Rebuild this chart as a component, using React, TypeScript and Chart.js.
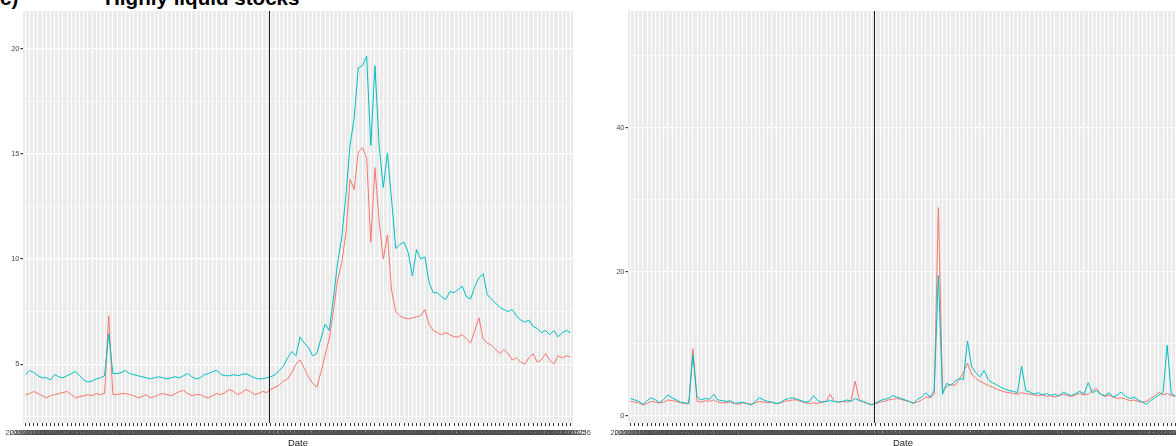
import React, { useEffect, useRef } from "react";
import { Chart, registerables } from "chart.js";

Chart.register(...registerables);
Chart.defaults.font.family = "'Liberation Sans', Arial, sans-serif";

// Trading days shown on both panels
const DATES = [
  "2019-11-25", "2019-11-26", "2019-11-27", "2019-11-28", "2019-11-29",
  "2019-12-02", "2019-12-03", "2019-12-04", "2019-12-05", "2019-12-06",
  "2019-12-09", "2019-12-10", "2019-12-11", "2019-12-12", "2019-12-13",
  "2019-12-16", "2019-12-17", "2019-12-18", "2019-12-19", "2019-12-20",
  "2019-12-23", "2019-12-24", "2019-12-25", "2019-12-26", "2019-12-27",
  "2019-12-30", "2019-12-31", "2020-01-01", "2020-01-02", "2020-01-03",
  "2020-01-06", "2020-01-07", "2020-01-08", "2020-01-09", "2020-01-10",
  "2020-01-13", "2020-01-14", "2020-01-15", "2020-01-16", "2020-01-17",
  "2020-01-20", "2020-01-21", "2020-01-22", "2020-01-23", "2020-01-24",
  "2020-01-27", "2020-01-28", "2020-01-29", "2020-01-30", "2020-01-31",
  "2020-02-03", "2020-02-04", "2020-02-05", "2020-02-06", "2020-02-07",
  "2020-02-10", "2020-02-11", "2020-02-12", "2020-02-13", "2020-02-14",
  "2020-02-17", "2020-02-18", "2020-02-19", "2020-02-20", "2020-02-21",
  "2020-02-24", "2020-02-25", "2020-02-26", "2020-02-27", "2020-02-28",
  "2020-03-02", "2020-03-03", "2020-03-04", "2020-03-05", "2020-03-06",
  "2020-03-09", "2020-03-10", "2020-03-11", "2020-03-12", "2020-03-13",
  "2020-03-16", "2020-03-17", "2020-03-18", "2020-03-19", "2020-03-20",
  "2020-03-23", "2020-03-24", "2020-03-25", "2020-03-26", "2020-03-27",
  "2020-03-30", "2020-03-31", "2020-04-01", "2020-04-02", "2020-04-03",
  "2020-04-06", "2020-04-07", "2020-04-08", "2020-04-09", "2020-04-10",
  "2020-04-13", "2020-04-14", "2020-04-15", "2020-04-16", "2020-04-17",
  "2020-04-20", "2020-04-21", "2020-04-22", "2020-04-23", "2020-04-24",
  "2020-04-27", "2020-04-28", "2020-04-29", "2020-04-30", "2020-05-01",
  "2020-05-04", "2020-05-05", "2020-05-06", "2020-05-07", "2020-05-08",
  "2020-05-11", "2020-05-12", "2020-05-13", "2020-05-14", "2020-05-15",
  "2020-05-18", "2020-05-19", "2020-05-20", "2020-05-21", "2020-05-22",
  "2020-05-25", "2020-05-26",
];

// Event marker sits between 2020-02-13 and 2020-02-14
const EVENT_AT = 58.5;

// Left panel series
const LEFT_CYAN = [
  4.5, 4.7, 4.6, 4.45, 4.35, 4.35, 4.25, 4.5, 4.4, 4.35,
  4.45, 4.55, 4.65, 4.45, 4.25, 4.15, 4.2, 4.3, 4.35, 4.45,
  6.45, 4.55, 4.55, 4.6, 4.7, 4.55, 4.5, 4.45, 4.4, 4.35,
  4.3, 4.35, 4.4, 4.35, 4.3, 4.35, 4.4, 4.35, 4.45, 4.55,
  4.4, 4.3, 4.35, 4.5, 4.55, 4.65, 4.7, 4.5, 4.45, 4.45,
  4.5, 4.45, 4.5, 4.55, 4.45, 4.35, 4.3, 4.3, 4.35, 4.4,
  4.5, 4.7, 4.9, 5.3, 5.6, 5.4, 6.3, 6.0, 5.8, 5.4,
  5.5, 6.2, 6.9, 6.6, 8.1, 9.8, 11.0, 13.0, 15.4, 16.7,
  19.1, 19.2, 19.65, 15.4, 19.2, 15.4, 13.4, 15.05, 12.8, 10.5,
  10.7, 10.8, 10.3, 9.2, 10.45, 10.0, 10.1, 8.9, 8.4, 8.4,
  8.2, 8.07, 8.45, 8.4, 8.55, 8.7, 8.2, 8.1, 8.7, 9.1,
  9.3, 8.3, 8.1, 7.9, 7.7, 7.6, 7.5, 7.6, 7.3, 7.1,
  7.0, 7.1, 6.8, 6.7, 6.5, 6.6, 6.4, 6.6, 6.3, 6.5,
  6.6, 6.5,
];
const LEFT_RED = [
  3.55, 3.6, 3.7, 3.6, 3.5, 3.4, 3.5, 3.55, 3.6, 3.65,
  3.7, 3.55, 3.4, 3.45, 3.5, 3.55, 3.5, 3.6, 3.55, 3.6,
  7.3, 3.55, 3.55, 3.6, 3.6, 3.55, 3.5, 3.4, 3.45, 3.55,
  3.4, 3.45, 3.55, 3.6, 3.55, 3.5, 3.6, 3.7, 3.75, 3.6,
  3.5, 3.55, 3.55, 3.45, 3.4, 3.5, 3.6, 3.55, 3.65, 3.8,
  3.7, 3.55, 3.65, 3.8, 3.7, 3.55, 3.6, 3.7, 3.65, 3.8,
  3.9, 4.0, 4.2, 4.3, 4.6, 5.0, 5.2, 4.8, 4.4, 4.1,
  3.9, 4.6, 5.4, 6.2, 7.5, 9.0, 9.8, 11.2, 13.8, 13.3,
  15.1, 15.3, 14.8, 10.8, 14.35, 11.8, 10.0, 11.15, 8.5, 7.5,
  7.3, 7.2, 7.15, 7.2, 7.25, 7.3, 7.6, 6.9, 6.6, 6.5,
  6.4, 6.5, 6.4, 6.3, 6.3, 6.4, 6.2, 6.0, 6.6, 7.2,
  6.2, 6.0, 5.9, 5.7, 5.5, 5.7, 5.5, 5.2, 5.3, 5.1,
  5.0, 5.3, 5.5, 5.1, 5.2, 5.5, 5.2, 5.0, 5.4, 5.3,
  5.4, 5.35,
];

// Right panel series
const RIGHT_CYAN = [
  2.4, 2.2, 2.0, 1.6, 2.1, 2.5, 2.2, 1.8, 2.3, 2.9,
  2.5, 2.2, 1.9, 1.8, 1.7, 8.5, 2.6, 2.2, 2.4, 2.3,
  3.0, 2.2, 2.1, 2.0, 2.1, 1.7, 1.8, 1.9, 1.7, 1.5,
  2.0, 2.5, 2.2, 2.0, 1.9, 1.7, 1.8, 2.2, 2.4, 2.5,
  2.3, 2.1, 1.9, 2.0, 2.8, 2.1, 1.9, 2.0, 2.1, 2.0,
  1.9, 2.0, 2.2, 2.0, 2.4, 2.1, 2.0, 1.7, 1.5, 1.8,
  2.1, 2.3, 2.4, 2.8, 2.6, 2.4, 2.2, 2.0, 1.7, 2.3,
  2.6, 3.2, 2.6, 3.5, 19.5, 3.0, 4.5, 4.2, 4.8, 5.2,
  5.0, 10.4, 6.8, 6.0, 5.4, 6.3, 5.0, 4.6, 4.3, 4.0,
  3.7, 3.5, 3.4, 3.2, 6.9, 3.5, 3.3, 3.0, 3.2, 2.9,
  3.1, 2.8, 3.0, 2.7, 3.3, 3.0, 2.8, 3.1, 3.4, 3.0,
  4.6, 3.2, 3.5, 3.0, 2.8, 3.2, 2.6, 2.9, 3.3, 2.7,
  2.4, 2.6, 2.2, 1.9, 1.6, 2.1, 2.5, 2.9, 3.2, 9.8,
  3.0, 2.8,
];
const RIGHT_RED = [
  2.0, 1.9, 1.8, 1.5, 1.7, 2.0, 1.9, 1.8, 1.9, 2.2,
  2.1, 2.0, 1.8, 1.7, 1.7, 9.3, 2.0, 1.9, 2.1, 2.0,
  2.2, 1.9, 1.8, 1.8, 1.9, 1.7, 1.6, 1.8, 1.7, 1.6,
  1.8, 2.0, 1.9, 1.8, 1.9, 1.7, 1.8, 2.0, 2.1, 2.2,
  2.2, 2.0, 1.8, 1.7, 1.8, 1.7, 1.9, 2.0, 3.0, 2.0,
  1.9, 2.0, 1.9, 2.1, 4.8, 2.2, 1.9, 1.7, 1.6, 1.7,
  1.9, 2.0, 2.2, 2.3, 2.4, 2.3, 2.1, 2.0, 1.8, 1.9,
  2.2, 2.6, 2.5, 3.0, 28.9, 3.6, 4.0, 4.4, 4.2, 5.0,
  6.0, 7.3, 5.8, 5.2, 4.8, 4.5, 4.2, 4.0, 3.7, 3.5,
  3.3, 3.2, 3.1, 3.0, 3.2, 3.1, 3.0, 2.9, 2.8, 2.9,
  2.7, 2.8, 2.6, 2.9, 3.0, 2.8, 2.7, 2.9, 3.1, 2.9,
  3.0, 3.5, 3.8, 3.0, 2.7, 2.9, 2.6, 2.4, 2.5, 2.3,
  2.1, 2.2, 2.0, 1.9, 2.0, 2.4, 2.8, 3.3, 2.9, 3.1,
  2.8, 2.7,
];

// Axis ticks and ranges
const LEFT_Y_MAJOR = [5, 10, 15, 20];
const LEFT_Y_MINOR = [2.5, 7.5, 12.5, 17.5];
const LEFT_Y_RANGE = [2.2, 21.8];
const RIGHT_Y_MAJOR = [0, 20, 40];
const RIGHT_Y_MINOR = [10, 30, 50];
const RIGHT_Y_RANGE = [-1, 56.2];

const CANVAS_H = 452;
const PANEL_BOTTOM = 423;
const RED = "#F8766D";
const CYAN = "#00BFC4";

const panelBackground = {
  id: "panelBackground",
  beforeDraw(chart: any) {
    const { ctx, chartArea: a } = chart;
    ctx.save();
    ctx.fillStyle = "#EBEBEB";
    ctx.fillRect(a.left, a.top, a.right - a.left, a.bottom - a.top);
    ctx.restore();
  },
};

const eventLine = {
  id: "eventLine",
  afterDatasetsDraw(chart: any) {
    const { ctx, chartArea: a, scales } = chart;
    const x = Math.round(scales.x.getPixelForValue(EVENT_AT)) + 0.5;
    ctx.save();
    ctx.strokeStyle = "#1a1a1a";
    ctx.lineWidth = 1;
    ctx.beginPath();
    ctx.moveTo(x, a.top);
    ctx.lineTo(x, a.bottom);
    ctx.stroke();
    ctx.restore();
  },
};

// Every date is printed under its own tick, so the labels crowd into a band
const dateLabels = {
  id: "dateLabels",
  afterDraw(chart: any) {
    const { ctx, chartArea: a, scales } = chart;
    ctx.save();
    ctx.font = "8px 'Liberation Sans', Arial, sans-serif";
    ctx.fillStyle = "#4D4D4D";
    ctx.textAlign = "center";
    ctx.textBaseline = "alphabetic";
    for (let i = 0; i < DATES.length; i++) {
      ctx.fillText(DATES[i], scales.x.getPixelForValue(i), a.bottom + 12);
    }
    ctx.restore();
  },
};

type PanelProps = {
  left: number;
  width: number;
  axisWidth: number;
  padRight: number;
  red: number[];
  cyan: number[];
  yRange: number[];
  yMajor: number[];
  yMinor: number[];
};

function Panel(p: PanelProps) {
  const ref = useRef<HTMLCanvasElement>(null);

  useEffect(() => {
    const canvas = ref.current;
    if (!canvas) return;
    const n = DATES.length;
    const yTicks = [...p.yMinor, ...p.yMajor].sort((a, b) => a - b);
    const isMajor = (v: number) => p.yMajor.includes(v);

    const chart = new Chart(canvas, {
      type: "line",
      data: {
        datasets: [
          {
            label: "cyan",
            data: p.cyan.map((v, i) => ({ x: i, y: v })),
            borderColor: CYAN,
            borderWidth: 1,
            pointRadius: 0,
            tension: 0,
          },
          {
            label: "red",
            data: p.red.map((v, i) => ({ x: i, y: v })),
            borderColor: RED,
            borderWidth: 1,
            pointRadius: 0,
            tension: 0,
          },
        ],
      },
      options: {
        animation: false,
        responsive: false,
        devicePixelRatio: 1,
        events: [],
        layout: { padding: { left: 0, top: 11, right: p.padRight, bottom: 0 } },
        plugins: { legend: { display: false }, tooltip: { enabled: false } },
        scales: {
          x: {
            type: "linear",
            min: -0.6,
            max: n - 1 + 0.6,
            afterBuildTicks: (s: any) => {
              s.ticks = DATES.map((_, i) => ({ value: i }));
            },
            afterFit: (s: any) => {
              s.height = CANVAS_H - PANEL_BOTTOM;
            },
            border: { display: false },
            grid: {
              color: "#FFFFFF",
              lineWidth: 1,
              tickColor: "#333333",
              tickLength: 3,
            },
            ticks: { display: false },
            title: {
              display: true,
              text: "Date",
              color: "#1a1a1a",
              font: { size: 9.5 },
              padding: { top: 0, bottom: 3 },
            },
          },
          y: {
            min: p.yRange[0],
            max: p.yRange[1],
            afterBuildTicks: (s: any) => {
              s.ticks = yTicks.map((v) => ({ value: v }));
            },
            afterFit: (s: any) => {
              s.width = p.axisWidth;
            },
            border: { display: false },
            grid: {
              color: "#FFFFFF",
              lineWidth: (ctx: any) => (isMajor(ctx.tick.value) ? 1.2 : 0.6),
              tickColor: (ctx: any) =>
                isMajor(ctx.tick.value) ? "#333333" : "rgba(0,0,0,0)",
              tickLength: 2.5,
            },
            ticks: {
              padding: 1,
              color: "#4D4D4D",
              font: { size: 7.5 },
              callback: (v: any) => (isMajor(v) ? String(v) : ""),
            },
          },
        },
      },
      plugins: [panelBackground, eventLine, dateLabels],
    } as any);

    return () => chart.destroy();
  }, []);

  return (
    <canvas
      ref={ref}
      width={p.width}
      height={CANVAS_H}
      style={{ position: "absolute", left: p.left, top: 0, width: p.width, height: CANVAS_H }}
    />
  );
}

export default function App() {
  return (
    <div
      style={{
        position: "fixed",
        left: 0,
        top: 0,
        width: 1176,
        height: 446,
        overflow: "hidden",
        background: "#FFFFFF",
      }}
    >
      <div
        style={{
          position: "absolute",
          left: 0,
          top: -12,
          fontFamily: "'Liberation Sans', Arial, sans-serif",
          fontWeight: 700,
          fontSize: 20.6,
          lineHeight: "20px",
          whiteSpace: "pre",
          color: "#000",
        }}
      >
        <span>c)</span>
        <span style={{ position: "absolute", left: 105 }}>Highly liquid stocks</span>
      </div>
      <Panel
        left={0}
        width={595}
        axisWidth={23}
        padRight={22}
        red={LEFT_RED}
        cyan={LEFT_CYAN}
        yRange={LEFT_Y_RANGE}
        yMajor={LEFT_Y_MAJOR}
        yMinor={LEFT_Y_MINOR}
      />
      <Panel
        left={595}
        width={625}
        axisWidth={33}
        padRight={42}
        red={RIGHT_RED}
        cyan={RIGHT_CYAN}
        yRange={RIGHT_Y_RANGE}
        yMajor={RIGHT_Y_MAJOR}
        yMinor={RIGHT_Y_MINOR}
      />
    </div>
  );
}
